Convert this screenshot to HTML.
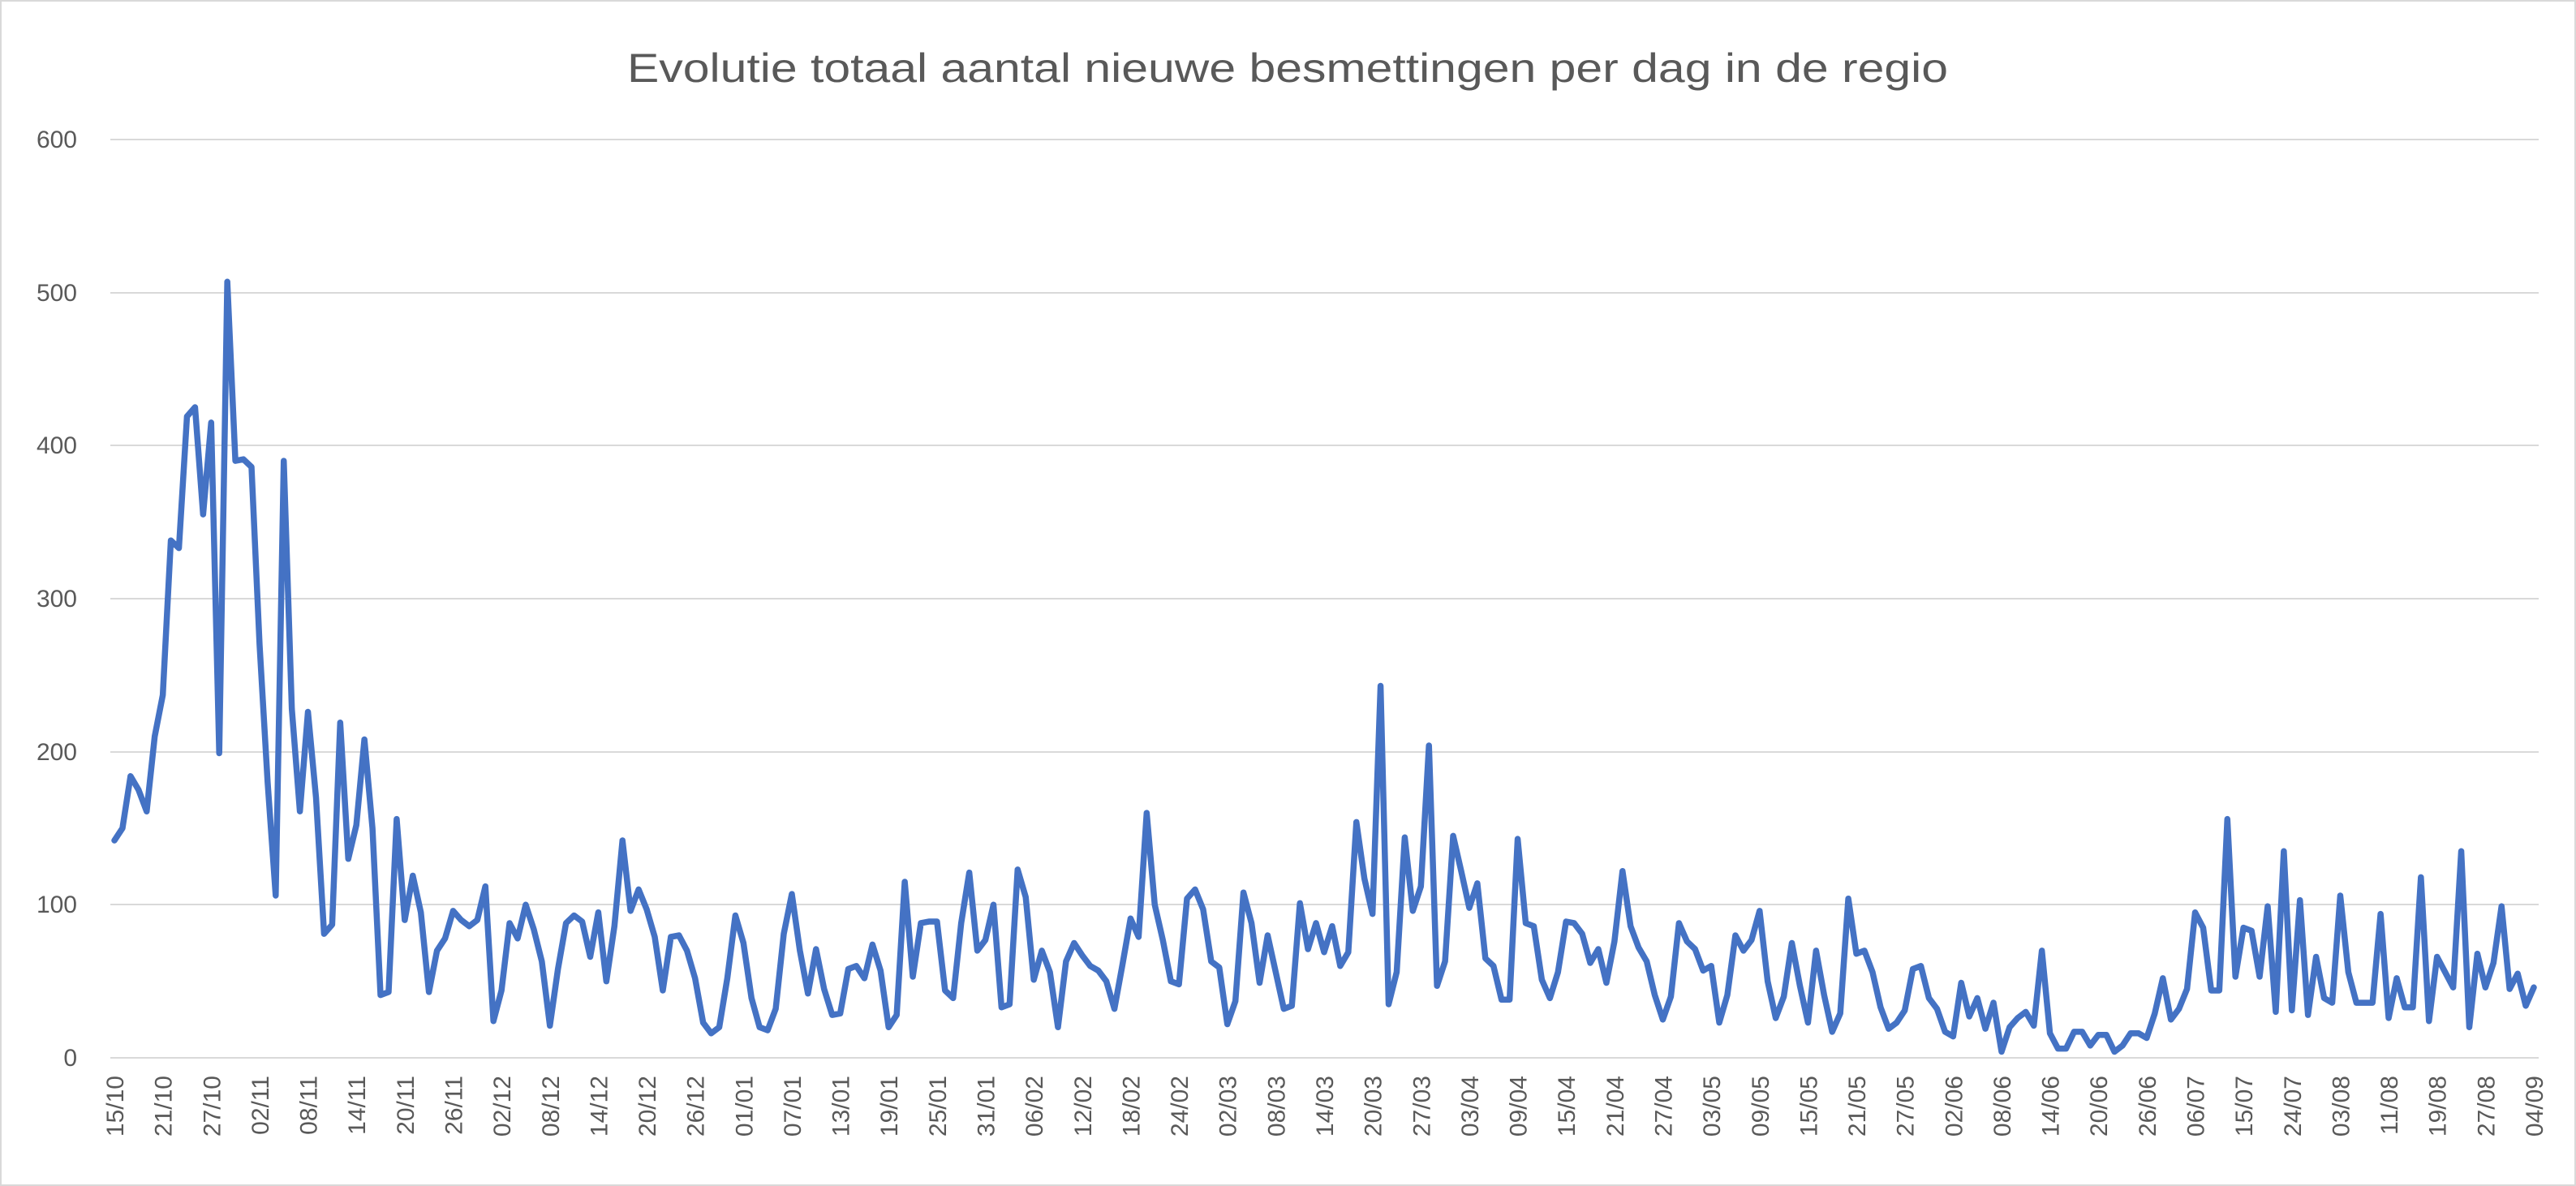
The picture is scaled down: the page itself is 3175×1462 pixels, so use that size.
<!DOCTYPE html>
<html><head><meta charset="utf-8"><style>
html,body{margin:0;padding:0;background:#fff;}
svg{display:block;}
text{font-family:"Liberation Sans",sans-serif;fill:#595959;}
</style></head><body>
<svg width="3175" height="1462" viewBox="0 0 3175 1462" xmlns="http://www.w3.org/2000/svg">
<rect x="1" y="1" width="3173" height="1460" fill="#fff" stroke="#d9d9d9" stroke-width="2"/>
<text x="1587" y="101" text-anchor="middle" font-size="50" textLength="1628" lengthAdjust="spacingAndGlyphs">Evolutie totaal aantal nieuwe besmettingen per dag in de regio</text>
<g stroke="#d9d9d9" stroke-width="2">
<line x1="136" x2="3129" y1="172" y2="172"/>
<line x1="136" x2="3129" y1="361" y2="361"/>
<line x1="136" x2="3129" y1="549" y2="549"/>
<line x1="136" x2="3129" y1="738" y2="738"/>
<line x1="136" x2="3129" y1="927" y2="927"/>
<line x1="136" x2="3129" y1="1115" y2="1115"/>
<line x1="136" x2="3129" y1="1304" y2="1304"/>
</g>
<g font-size="30" text-anchor="end">
<text x="95" y="182">600</text>
<text x="95" y="371">500</text>
<text x="95" y="559">400</text>
<text x="95" y="748">300</text>
<text x="95" y="937">200</text>
<text x="95" y="1125">100</text>
<text x="95" y="1314">0</text>
</g>
<polyline fill="none" stroke="#4472C4" stroke-width="7.5" stroke-linejoin="round" stroke-linecap="round" vector-effect="non-scaling-stroke" transform="translate(141,1304) scale(9.94,-1.887)" points="0,142 1,150 2,184 3,175 4,161 5,210 6,237 7,338 8,333 9,419 10,425 11,355 12,415 13,199 14,507 15,390 16,391 17,386 18,270 19,180 20,106 21,390 22,228 23,161 24,226 25,170 26,81 27,87 28,219 29,130 30,152 31,208 32,150 33,41 34,43 35,156 36,90 37,119 38,95 39,43 40,70 41,78 42,96 43,90 44,86 45,90 46,112 47,24 48,44 49,88 50,78 51,100 52,84 53,63 54,21 55,58 56,88 57,93 58,89 59,66 60,95 61,50 62,86 63,142 64,96 65,110 66,97 67,79 68,44 69,79 70,80 71,70 72,52 73,23 74,16 75,20 76,52 77,93 78,75 79,39 80,20 81,18 82,32 83,81 84,107 85,70 86,42 87,71 88,45 89,28 90,29 91,58 92,60 93,52 94,74 95,57 96,20 97,28 98,115 99,53 100,88 101,89 102,89 103,44 104,39 105,88 106,121 107,70 108,77 109,100 110,33 111,35 112,123 113,105 114,51 115,70 116,56 117,20 118,63 119,75 120,67 121,60 122,57 123,50 124,32 125,61 126,91 127,79 128,160 129,100 130,77 131,50 132,48 133,104 134,110 135,97 136,63 137,59 138,22 139,37 140,108 141,88 142,49 143,80 144,56 145,32 146,34 147,101 148,71 149,88 150,69 151,86 152,60 153,69 154,154 155,117 156,94 157,243 158,35 159,56 160,144 161,96 162,112 163,204 164,47 165,63 166,145 167,122 168,98 169,114 170,65 171,60 172,38 173,38 174,143 175,88 176,86 177,51 178,39 179,56 180,89 181,88 182,81 183,62 184,71 185,49 186,76 187,122 188,86 189,72 190,63 191,41 192,25 193,40 194,88 195,76 196,71 197,57 198,60 199,23 200,41 201,80 202,70 203,77 204,96 205,50 206,26 207,40 208,75 209,47 210,23 211,70 212,41 213,17 214,29 215,104 216,68 217,70 218,56 219,33 220,19 221,23 222,31 223,58 224,60 225,39 226,32 227,17 228,14 229,49 230,27 231,39 232,19 233,36 234,4 235,20 236,26 237,30 238,21 239,70 240,16 241,6 242,6 243,17 244,17 245,8 246,15 247,15 248,4 249,8 250,16 251,16 252,13 253,29 254,52 255,25 256,32 257,45 258,95 259,85 260,44 261,44 262,156 263,53 264,85 265,83 266,53 267,99 268,30 269,135 270,31 271,103 272,28 273,66 274,39 275,36 276,106 277,56 278,36 279,36 280,36 281,94 282,26 283,52 284,33 285,33 286,118 287,24 288,66 289,56 290,46 291,135 292,20 293,68 294,46 295,62 296,99 297,45 298,55 299,34 300,46"/>
<g font-size="30" text-anchor="end">
<text transform="translate(152,1326) rotate(-90)">15/10</text>
<text transform="translate(211.6,1326) rotate(-90)">21/10</text>
<text transform="translate(271.3,1326) rotate(-90)">27/10</text>
<text transform="translate(330.9,1326) rotate(-90)">02/11</text>
<text transform="translate(390.6,1326) rotate(-90)">08/11</text>
<text transform="translate(450.2,1326) rotate(-90)">14/11</text>
<text transform="translate(509.8,1326) rotate(-90)">20/11</text>
<text transform="translate(569.5,1326) rotate(-90)">26/11</text>
<text transform="translate(629.1,1326) rotate(-90)">02/12</text>
<text transform="translate(688.8,1326) rotate(-90)">08/12</text>
<text transform="translate(748.4,1326) rotate(-90)">14/12</text>
<text transform="translate(808,1326) rotate(-90)">20/12</text>
<text transform="translate(867.7,1326) rotate(-90)">26/12</text>
<text transform="translate(927.3,1326) rotate(-90)">01/01</text>
<text transform="translate(987,1326) rotate(-90)">07/01</text>
<text transform="translate(1046.6,1326) rotate(-90)">13/01</text>
<text transform="translate(1106.2,1326) rotate(-90)">19/01</text>
<text transform="translate(1165.9,1326) rotate(-90)">25/01</text>
<text transform="translate(1225.5,1326) rotate(-90)">31/01</text>
<text transform="translate(1285.2,1326) rotate(-90)">06/02</text>
<text transform="translate(1344.8,1326) rotate(-90)">12/02</text>
<text transform="translate(1404.4,1326) rotate(-90)">18/02</text>
<text transform="translate(1464.1,1326) rotate(-90)">24/02</text>
<text transform="translate(1523.7,1326) rotate(-90)">02/03</text>
<text transform="translate(1583.4,1326) rotate(-90)">08/03</text>
<text transform="translate(1643,1326) rotate(-90)">14/03</text>
<text transform="translate(1702.6,1326) rotate(-90)">20/03</text>
<text transform="translate(1762.3,1326) rotate(-90)">27/03</text>
<text transform="translate(1821.9,1326) rotate(-90)">03/04</text>
<text transform="translate(1881.6,1326) rotate(-90)">09/04</text>
<text transform="translate(1941.2,1326) rotate(-90)">15/04</text>
<text transform="translate(2000.8,1326) rotate(-90)">21/04</text>
<text transform="translate(2060.5,1326) rotate(-90)">27/04</text>
<text transform="translate(2120.1,1326) rotate(-90)">03/05</text>
<text transform="translate(2179.8,1326) rotate(-90)">09/05</text>
<text transform="translate(2239.4,1326) rotate(-90)">15/05</text>
<text transform="translate(2299,1326) rotate(-90)">21/05</text>
<text transform="translate(2358.7,1326) rotate(-90)">27/05</text>
<text transform="translate(2418.3,1326) rotate(-90)">02/06</text>
<text transform="translate(2478,1326) rotate(-90)">08/06</text>
<text transform="translate(2537.6,1326) rotate(-90)">14/06</text>
<text transform="translate(2597.2,1326) rotate(-90)">20/06</text>
<text transform="translate(2656.9,1326) rotate(-90)">26/06</text>
<text transform="translate(2716.5,1326) rotate(-90)">06/07</text>
<text transform="translate(2776.2,1326) rotate(-90)">15/07</text>
<text transform="translate(2835.8,1326) rotate(-90)">24/07</text>
<text transform="translate(2895.4,1326) rotate(-90)">03/08</text>
<text transform="translate(2955.1,1326) rotate(-90)">11/08</text>
<text transform="translate(3014.7,1326) rotate(-90)">19/08</text>
<text transform="translate(3074.4,1326) rotate(-90)">27/08</text>
<text transform="translate(3134,1326) rotate(-90)">04/09</text>
</g>
</svg>
</body></html>
